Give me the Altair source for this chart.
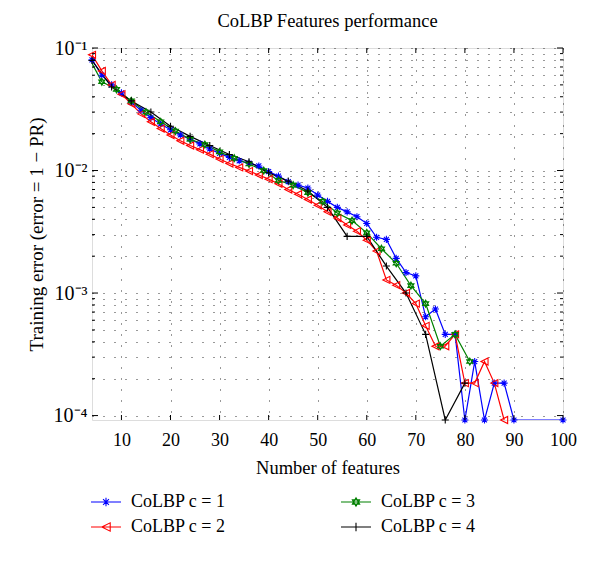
import altair as alt
import pandas as pd

U = 9.2e-5  # one misclassified sample (bottom of the axis)

SERIES = ["CoLBP c = 1", "CoLBP c = 2", "CoLBP c = 3", "CoLBP c = 4"]
COLORS = ["#0000ff", "#ff0000", "#008000", "#000000"]

X1 = [4, 6, 8, 10, 12, 14, 16, 18, 20, 22, 24, 26, 28, 30, 32, 34, 36, 38, 40, 42,
      44, 46, 48, 50, 52, 54, 56, 58, 60, 62, 64, 66, 68, 70, 72, 74, 76, 78, 80, 82,
      84, 86, 88, 90, 100]
Y1 = [0.080, 0.060, 0.050, 0.043, 0.036, 0.031, 0.027, 0.024, 0.0215, 0.0195,
      0.018, 0.0165, 0.015, 0.0138, 0.0128, 0.0120, 0.0115, 0.0109, 0.0098, 0.0090,
      0.0081, 0.0076, 0.0072, 0.0063, 0.0056, 0.0050, 0.0046, 0.0042, 0.0037, 0.00285,
      0.00274, 0.00192, 0.00147, 0.00138, 0.00064, 0.00074, 0.00046, 0.00046, U, 3 * U,
      U, 2 * U, 2 * U, U, U]

X2 = [4, 6, 8, 10, 12, 14, 16, 18, 20, 22, 24, 26, 28, 30, 32, 34, 36, 38, 40, 42,
      44, 46, 48, 50, 52, 54, 56, 58, 60, 62, 64, 66, 68, 70, 72, 74, 76, 78, 80, 82,
      84, 86, 88]
Y2 = [0.088, 0.065, 0.050, 0.042, 0.035, 0.029, 0.025, 0.022, 0.0195, 0.0175,
      0.016, 0.0148, 0.0136, 0.0124, 0.0114, 0.0106, 0.0099, 0.0092, 0.0085, 0.0078,
      0.0070, 0.0064, 0.0058, 0.0052, 0.0046, 0.0041, 0.0036, 0.0032, 0.0027, 0.0022,
      0.00128, 0.00116, 0.00100, 0.00082, 0.00054, 4 * U, 4 * U, 5 * U, 2 * U, 2 * U,
      3 * U, 2 * U, U]

X3 = [3, 6, 9, 12, 15, 18, 21, 24, 27, 30, 33, 36, 39, 42, 45, 48, 51, 54, 57, 60,
      63, 66, 69, 72, 75, 78, 81]
Y3 = [0.089, 0.053, 0.046, 0.037, 0.030, 0.025, 0.021, 0.018, 0.0163, 0.0142,
      0.0126, 0.0113, 0.0100, 0.0083, 0.0076, 0.0066, 0.0056, 0.0045, 0.0039, 0.0031,
      0.0023, 0.00175, 0.00115, 0.00082, 4 * U, 5 * U, 3 * U]

X4 = [4, 8, 12, 16, 20, 24, 28, 32, 36, 40, 44, 48, 52, 56, 60, 64, 68, 72, 76, 80]
Y4 = [0.079, 0.048, 0.037, 0.030, 0.023, 0.019, 0.016, 0.0135, 0.0118, 0.0096,
      0.0082, 0.0068, 0.0050, 0.0029, 0.0029, 0.00166, 0.00100, 5 * U, U, 2 * U]

X_TICKS = [10, 20, 30, 40, 50, 60, 70, 80, 90, 100]
Y_MAJOR = [1e-4, 1e-3, 1e-2, 1e-1]
Y_MINOR = [m * 10.0 ** e for e in (-4, -3, -2) for m in range(2, 10)]

MARK_PATHS = [
    "M-1,0H1M0,-1V1M-0.7,-0.7L0.7,0.7M-0.7,0.7L0.7,-0.7",
    "M-1,0L1,-1L1,1Z",
    "M0,-1L0.866,0.5L-0.866,0.5ZM0,1L-0.866,-0.5L0.866,-0.5Z",
    "M-1,0H1M0,-1V1",
]


def legend_path(p, s=0.42):
    # horizontal line segment plus the marker scaled down
    import re
    out = []
    for tok in re.split(r"([A-Za-z])", p):
        if tok == "":
            continue
        if tok.isalpha():
            out.append(tok)
        else:
            vals = [float(v) * s for v in tok.split(",")]
            out.append(",".join(f"{v:.3f}" for v in vals))
    return "M-1.5,0H1.5" + "".join(out)


MK = [s + " mk" for s in SERIES]
SHAPE_DOMAIN = SERIES + MK
SHAPE_RANGE = [legend_path(p) for p in MARK_PATHS] + MARK_PATHS
COLOR_RANGE = COLORS + COLORS

rows = []
for name, xs, ys in zip(SERIES, [X1, X2, X3, X4], [Y1, Y2, Y3, Y4]):
    for x, y in zip(xs, ys):
        rows.append({"x": x, "y": y, "series": name, "mk": name + " mk"})
df = pd.DataFrame(rows)

W, H = 471, 372
FONT = "Liberation Serif"

xscale = alt.Scale(domain=[4, 100], nice=False, zero=False)
yscale = alt.Scale(type="log", domain=[U, 0.1], nice=False)
cscale = alt.Scale(domain=SHAPE_DOMAIN, range=COLOR_RANGE)
sscale = alt.Scale(domain=SHAPE_DOMAIN, range=SHAPE_RANGE)

LEG_ORDER = [SERIES[0], SERIES[2], SERIES[1], SERIES[3]]
legend = alt.Legend(
    title=None, values=LEG_ORDER, orient="none", legendX=3, legendY=443,
    columns=2, direction="horizontal", symbolSize=400, symbolStrokeWidth=1.1,
    labelFont=FONT, labelFontSize=18, labelColor="black", labelOffset=14,
    columnPadding=112, rowPadding=5, padding=0, symbolType="circle",
)

grid_y = alt.Axis(values=Y_MAJOR + Y_MINOR, grid=True, ticks=False, domain=False,
                  gridDash=[1, 10], gridColor="#333333", gridWidth=1, labelFlush=False,
                  labelExpr="datum.value==1e-4?'10⁻⁴':datum.value==1e-3?'10⁻³':datum.value==1e-2?'10⁻²':abs(datum.value-0.1)<1e-9?'10⁻¹':''",
                  labelFont=FONT, labelFontSize=20, labelColor="black", labelPadding=5,
                  title="Training error (error = 1 − PR)", titleFont=FONT, titleFontSize=19,
                  titleFontWeight="normal", titleColor="black", titlePadding=7)
grid_x = alt.Axis(values=X_TICKS, grid=True, ticks=False, domain=False,
                  gridDash=[1, 10], gridColor="#333333", gridWidth=1, labelFlush=False,
                  labelFont=FONT, labelFontSize=18, labelColor="black", labelPadding=11,
                  title="Number of features", titleFont=FONT, titleFontSize=18.5,
                  titleFontWeight="normal", titleColor="black", titlePadding=9)

base = alt.Chart(df)

lines = base.mark_line(strokeWidth=1.2, clip=True).encode(
    x=alt.X("x:Q", scale=xscale, axis=grid_x),
    y=alt.Y("y:Q", scale=yscale, axis=grid_y),
    color=alt.Color("series:N", scale=cscale, legend=legend),
    detail="series:N",
)

points = base.transform_filter("datum.x >= 4").mark_point(filled=False, size=50, strokeWidth=1.1, opacity=1).encode(
    x=alt.X("x:Q", scale=xscale),
    y=alt.Y("y:Q", scale=yscale),
    color=alt.Color("mk:N", scale=cscale, legend=legend),
    shape=alt.Shape("mk:N", scale=sscale, legend=legend),
)

xt = pd.DataFrame({"v": X_TICKS})
ymaj = pd.DataFrame({"v": Y_MAJOR})
ymin = pd.DataFrame({"v": Y_MINOR})

tick_layers = [
    alt.Chart(xt).mark_rule(color="black", strokeWidth=1).encode(
        x=alt.X("v:Q", scale=xscale), y=alt.value(H), y2=alt.value(H - 5)),
    alt.Chart(xt).mark_rule(color="black", strokeWidth=1).encode(
        x=alt.X("v:Q", scale=xscale), y=alt.value(0), y2=alt.value(5)),
    alt.Chart(ymaj).mark_rule(color="black", strokeWidth=1).encode(
        y=alt.Y("v:Q", scale=yscale), x=alt.value(0), x2=alt.value(6)),
    alt.Chart(ymaj).mark_rule(color="black", strokeWidth=1).encode(
        y=alt.Y("v:Q", scale=yscale), x=alt.value(W), x2=alt.value(W - 6)),
    alt.Chart(ymin).mark_rule(color="black", strokeWidth=1).encode(
        y=alt.Y("v:Q", scale=yscale), x=alt.value(0), x2=alt.value(3)),
    alt.Chart(ymin).mark_rule(color="black", strokeWidth=1).encode(
        y=alt.Y("v:Q", scale=yscale), x=alt.value(W), x2=alt.value(W - 3)),
]

chart = alt.layer(lines, points, *tick_layers).properties(
    width=W, height=H,
    title=alt.Title("CoLBP Features performance", font=FONT, fontSize=18.5,
                    fontWeight="normal", color="black", offset=8, anchor="middle"),
    autosize=alt.AutoSizeParams(type="none"),
    padding={"left": 84, "top": 40, "right": 20, "bottom": 120},
).configure_view(stroke="black", strokeWidth=1.2).configure(background="white")

chart.save("out.html", embed_options={"renderer": "svg", "actions": False})
